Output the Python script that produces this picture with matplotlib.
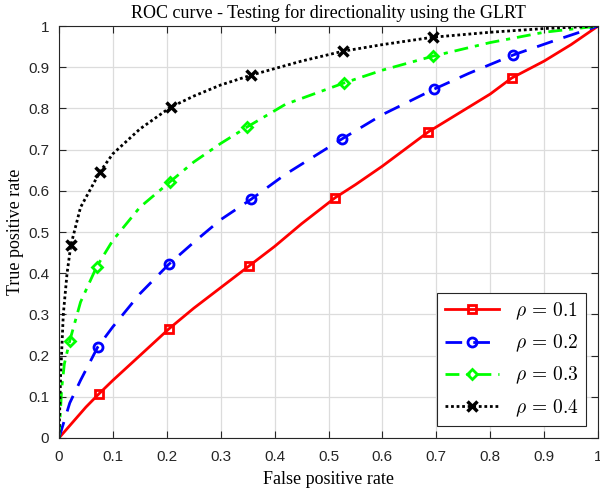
import matplotlib.pyplot as plt
import numpy as np

# curve data
x_01 = [0, 0.02, 0.05, 0.074, 0.1, 0.15, 0.204, 0.25, 0.3, 0.352, 0.4, 0.45, 0.512, 0.55, 0.6, 0.685, 0.75, 0.8, 0.84, 0.9, 0.95, 1]
y_01 = [0, 0.03, 0.075, 0.107, 0.14, 0.2, 0.265, 0.315, 0.365, 0.417, 0.465, 0.52, 0.583, 0.615, 0.66, 0.743, 0.795, 0.835, 0.874, 0.915, 0.955, 1]
mk_01 = [3, 6, 9, 12, 15, 18]

x_02 = [0, 0.02, 0.04, 0.072, 0.1, 0.15, 0.204, 0.25, 0.3, 0.357, 0.42, 0.525, 0.6, 0.696, 0.76, 0.843, 0.92, 1]
y_02 = [0, 0.085, 0.14, 0.221, 0.27, 0.35, 0.422, 0.475, 0.53, 0.58, 0.64, 0.726, 0.785, 0.847, 0.885, 0.93, 0.965, 1]
mk_02 = [3, 6, 9, 11, 13, 15]

x_03 = [0, 0.005, 0.01, 0.02, 0.04, 0.07, 0.1, 0.15, 0.206, 0.25, 0.3, 0.349, 0.42, 0.529, 0.6, 0.694, 0.8, 0.9, 1]
y_03 = [0, 0.12, 0.18, 0.236, 0.33, 0.416, 0.48, 0.56, 0.622, 0.67, 0.715, 0.755, 0.81, 0.862, 0.893, 0.927, 0.96, 0.985, 1]
mk_03 = [3, 5, 8, 11, 13, 15]

x_04 = [0, 0.003, 0.008, 0.015, 0.022, 0.04, 0.076, 0.1, 0.15, 0.207, 0.25, 0.3, 0.357, 0.45, 0.527, 0.6, 0.694, 0.8, 0.9, 1]
y_04 = [0, 0.15, 0.3, 0.4, 0.468, 0.56, 0.646, 0.69, 0.75, 0.803, 0.83, 0.857, 0.881, 0.915, 0.939, 0.955, 0.973, 0.985, 0.994, 1]
mk_04 = [4, 6, 9, 12, 14, 16]

plt.rcParams['mathtext.fontset'] = 'cm'

fig = plt.figure(figsize=(6, 4.92), dpi=100)
ax = fig.add_axes([0.0983, 0.1098, 0.8984, 0.8372])

ax.plot(x_01, y_01, color='#ff0000', lw=2, ls='-', marker='s', ms=5.5, mfc='none', mew=2,
        markevery=mk_01, label=r'$\rho \,=\, 0.1$')
ax.plot(x_02, y_02, color='#0000ff', lw=2, ls=(0, (6, 4)), marker='o', ms=6.5, mfc='none', mew=2,
        markevery=mk_02, label=r'$\rho \,=\, 0.2$')
ax.plot(x_03, y_03, color='#00ff00', lw=2, ls=(0, (5, 2.5, 1.5, 2.5)), marker='D', ms=5.5, mfc='none', mew=2,
        markevery=mk_03, label=r'$\rho \,=\, 0.3$')
ax.plot(x_04, y_04, color='black', lw=2, ls=(0, (1, 1)), marker='x', ms=7, mew=2.5,
        markevery=mk_04, label=r'$\rho \,=\, 0.4$')

ax.set_xlim(0, 1)
ax.set_ylim(0, 1)
ticks = np.round(np.arange(0, 1.01, 0.1), 1)
tick_labels = ['0', '0.1', '0.2', '0.3', '0.4', '0.5', '0.6', '0.7', '0.8', '0.9', '1']
ax.set_xticks(ticks)
ax.set_xticklabels(tick_labels, fontfamily='Liberation Sans', fontsize=11, color='#262626')
ax.set_yticks(ticks)
ax.set_yticklabels(tick_labels, fontfamily='Liberation Sans', fontsize=11, color='#262626')
ax.tick_params(axis='x', pad=9)
ax.tick_params(axis='y', pad=7)
ax.tick_params(direction='in', top=True, right=True, length=5, width=0.8, color='#262626')
ax.grid(True, color='#dcdcdc', lw=0.9)
ax.set_axisbelow(True)
for s in ax.spines.values():
    s.set_color('#262626')
    s.set_linewidth(0.8)

ax.set_title('ROC curve - Testing for directionality using the GLRT', fontfamily='Liberation Serif',
             fontsize=13, pad=6)
ax.set_xlabel('False positive rate', fontfamily='Liberation Serif', fontsize=13, labelpad=5)
ax.set_ylabel('True positive rate', fontfamily='Liberation Serif', fontsize=13, labelpad=3)

leg = ax.legend(loc='lower right', fontsize=14, handlelength=2.8, fancybox=False, framealpha=1,
                edgecolor='#262626', borderaxespad=0.6, labelspacing=0.55)
leg.get_frame().set_linewidth(0.8)

fig.savefig('out.png', dpi=100)
